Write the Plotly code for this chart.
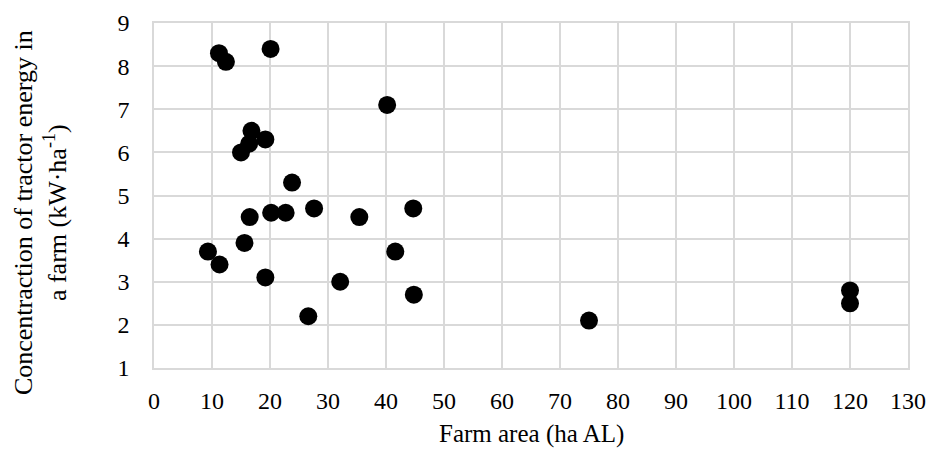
import plotly.graph_objects as go

farm_area = [11.2, 12.4, 20.1, 40.2, 16.8, 19.2, 16.4, 15.0, 23.8, 16.5, 20.2, 22.7,
             27.6, 35.4, 9.3, 11.3, 15.6, 19.2, 32.1, 26.6, 41.6, 44.7, 44.8, 75.0,
             120.0, 120.0]
tractor_energy = [8.3, 8.1, 8.4, 7.1, 6.5, 6.3, 6.2, 6.0, 5.3, 4.5, 4.6, 4.6,
                  4.7, 4.5, 3.7, 3.4, 3.9, 3.1, 3.0, 2.2, 3.7, 4.7, 2.7, 2.1,
                  2.8, 2.5]
x_ticks = list(range(0, 131, 10))
y_ticks = list(range(1, 10))
x_title = "Farm area (ha AL)"
y_title = "Concentraction of tractor energy in<br>a farm (kW·ha<sup>-1</sup>)"

font_family = "Liberation Serif, Times New Roman, serif"
grid_color = "#d9d9d9"

fig = go.Figure(go.Scatter(
    x=farm_area, y=tractor_energy, mode="markers",
    marker=dict(size=18, color="black"),
    hoverinfo="x+y",
))

fig.update_layout(
    width=930, height=450,
    margin=dict(l=154, r=22, t=23, b=82),
    paper_bgcolor="white", plot_bgcolor="white",
    font=dict(family=font_family, size=24, color="black"),
    showlegend=False,
    xaxis=dict(
        range=[0, 130], tickvals=x_ticks, ticktext=[str(v) for v in x_ticks],
        showgrid=True, gridcolor=grid_color, gridwidth=1.5,
        showline=True, linecolor=grid_color, linewidth=1.5, mirror=True,
        zeroline=False, ticks="", ticklen=0, ticklabelstandoff=10,
        ticklabeloverflow="allow",
        tickfont=dict(family=font_family, size=24),
        automargin=False,
    ),
    yaxis=dict(
        range=[1, 9], tickvals=y_ticks, ticktext=[str(v) for v in y_ticks],
        showgrid=True, gridcolor=grid_color, gridwidth=1.5,
        showline=True, linecolor=grid_color, linewidth=1.5, mirror=True,
        zeroline=False, ticks="", ticklen=0, ticklabelstandoff=18,
        tickfont=dict(family=font_family, size=24),
        automargin=False,
    ),
    annotations=[
        dict(text=x_title, xref="paper", yref="paper", x=0.5, y=0,
             xanchor="center", yanchor="middle", yshift=-66, showarrow=False,
             font=dict(family=font_family, size=25)),
        dict(text=y_title, xref="paper", yref="paper", x=0, y=0.449,
             xanchor="center", yanchor="middle", xshift=-114, textangle=-90,
             showarrow=False, align="center",
             font=dict(family=font_family, size=26)),
    ],
)

# remove the default 8px page margin so the 930x450 figure fills the window exactly
fig.write_html(
    "out.html",
    config={"displayModeBar": False},
    post_script="document.body.style.margin='0';document.body.style.overflow='hidden';",
)
